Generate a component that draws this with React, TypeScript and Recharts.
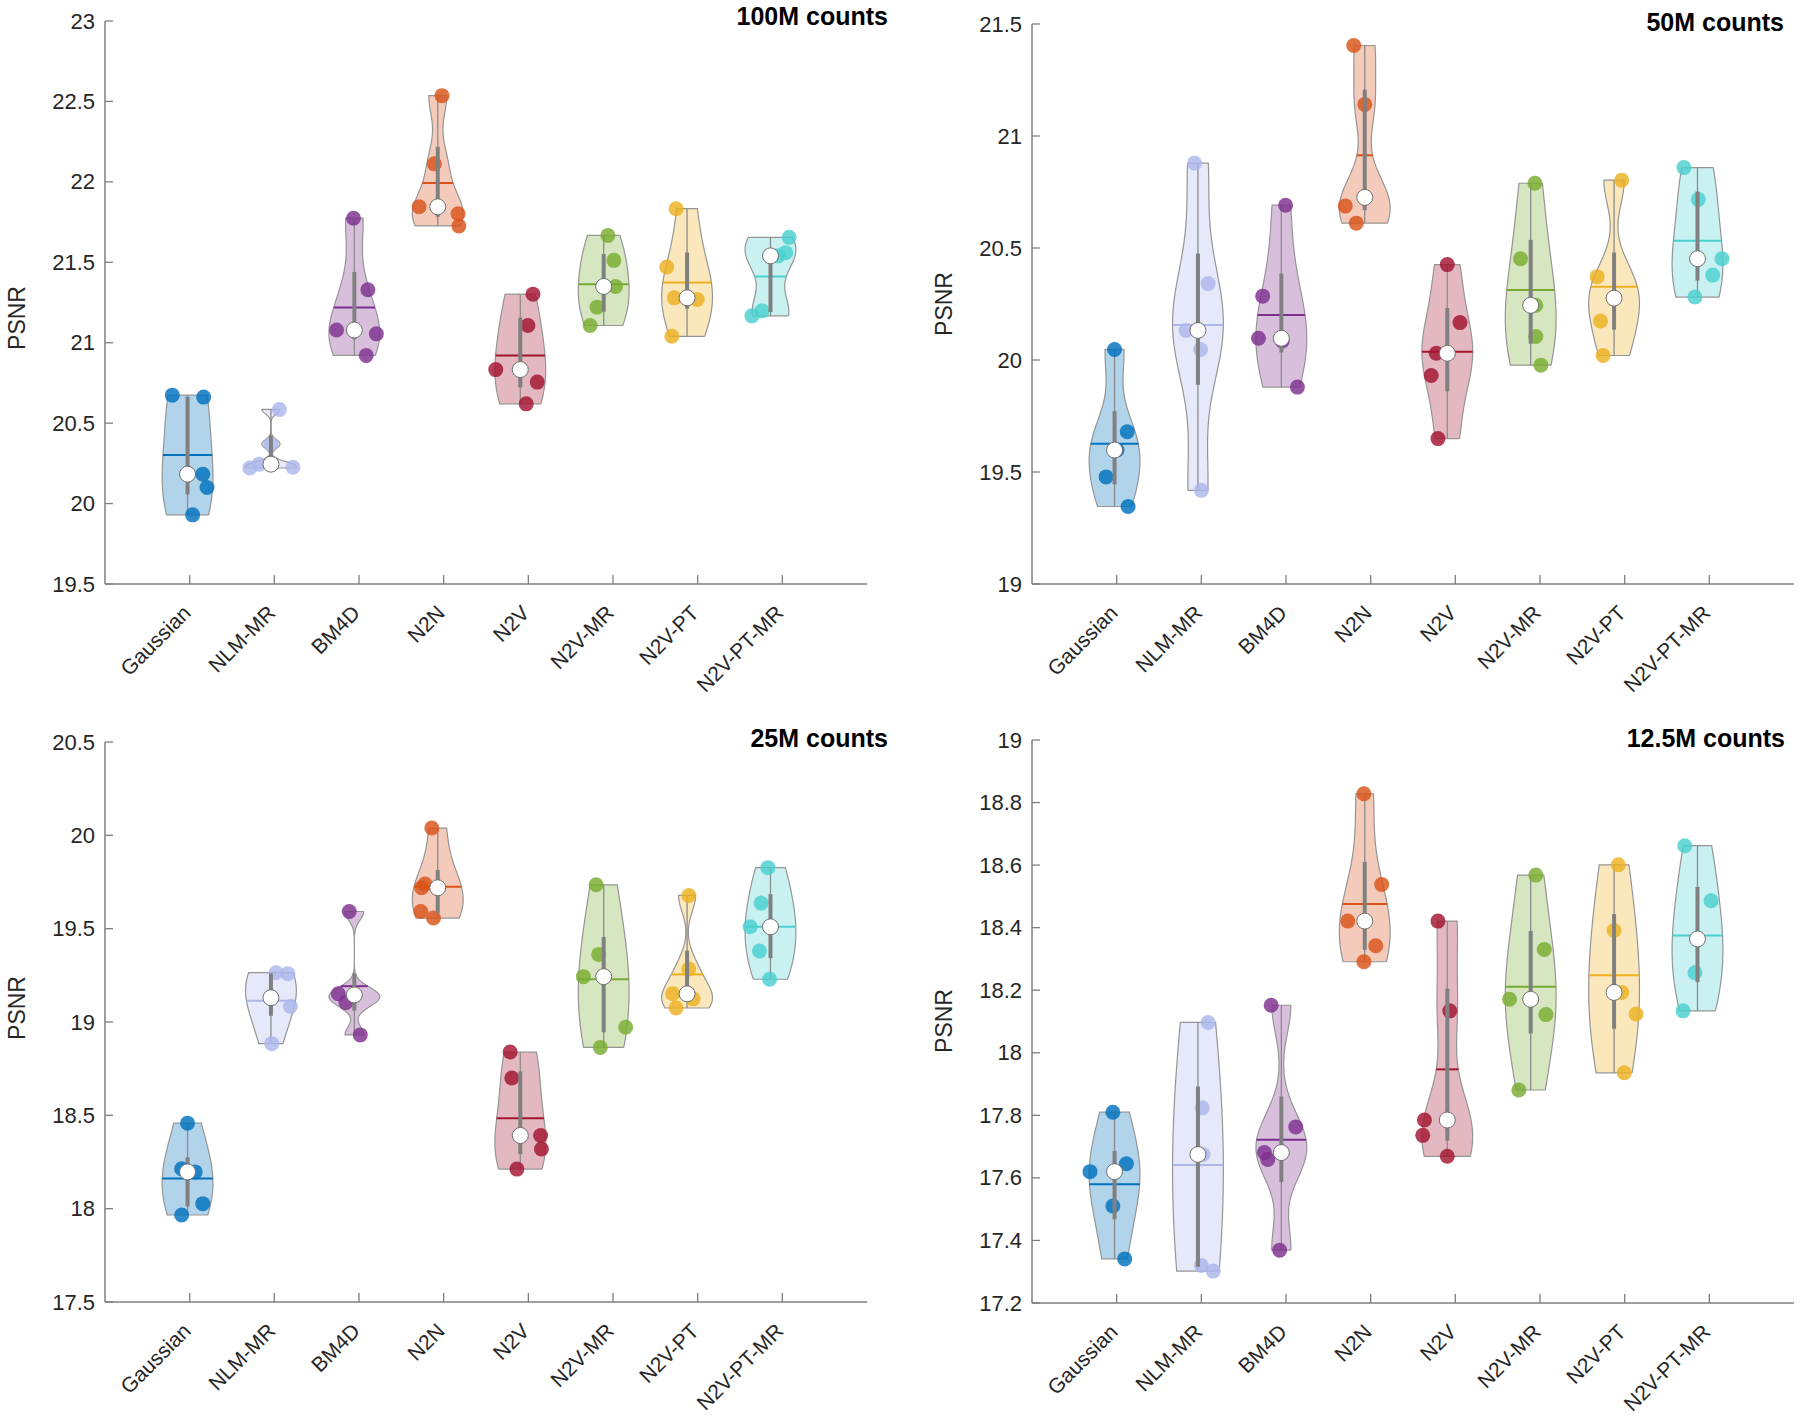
import React from "react";
import { ComposedChart, XAxis, YAxis, Scatter } from "recharts";

const FONT = '"Liberation Sans", Arial, Helvetica, sans-serif';
const AXIS_GRAY = "#7f7f7f";
const TEXT = "#262626";

const METHODS = ["Gaussian", "NLM-MR", "BM4D", "N2N", "N2V", "N2V-MR", "N2V-PT", "N2V-PT-MR"];
const COLORS = ["#0072BD", "#ACB6EB", "#7E2F8E", "#D95319", "#A2142F", "#77AC30", "#EDB120", "#4BD0D0"];
// violin centres as they sit in the figure (slightly left of the ticks)
const VIOLIN_X = [0.975, 1.96, 2.945, 3.93, 4.905, 5.89, 6.875, 7.86];
const X_TICKS = [1, 2, 3, 4, 5, 6, 7, 8];

// ---- 100M counts ----
const psnr100M = [
  [20.674, 20.662, 20.183, 20.1, 19.93],
  [20.221, 20.226, 20.245, 20.37, 20.585],
  [21.774, 21.329, 21.079, 21.055, 20.921],
  [22.536, 22.112, 21.845, 21.802, 21.726],
  [21.302, 21.107, 20.833, 20.755, 20.62],
  [21.667, 21.512, 21.35, 21.221, 21.107],
  [21.833, 21.471, 21.279, 21.269, 21.04],
  [21.655, 21.56, 21.54, 21.198, 21.167],
];
const jitter100M = [
  [-0.18, 0.19, 0.18, 0.23, 0.06],
  [-0.25, 0.26, -0.14, 0, 0.1],
  [-0.01, 0.16, -0.21, 0.26, 0.14],
  [0.05, -0.04, -0.22, 0.24, 0.25],
  [0.15, 0.09, -0.29, 0.2, 0.07],
  [0.05, 0.12, 0.14, -0.08, -0.16],
  [-0.13, -0.24, -0.15, 0.12, -0.18],
  [0.22, 0.18, 0.09, -0.1, -0.22],
];
const mean100M = [20.302, 20.33, 21.219, 21.993, 20.921, 21.364, 21.374, 21.412];
const ticks100M = [19.5, 20, 20.5, 21, 21.5, 22, 22.5, 23];

// ---- 50M counts ----
const psnr50M = [
  [20.047, 19.68, 19.598, 19.478, 19.346],
  [20.879, 20.341, 20.132, 20.047, 19.418],
  [20.691, 20.285, 20.097, 20.085, 19.879],
  [21.404, 21.141, 20.726, 20.688, 20.611],
  [20.426, 20.167, 20.03, 19.931, 19.649],
  [20.789, 20.452, 20.244, 20.105, 19.977],
  [20.803, 20.372, 20.276, 20.174, 20.02],
  [20.859, 20.717, 20.452, 20.379, 20.281],
];
const jitter50M = [
  [0, 0.15, 0.03, -0.1, 0.16],
  [-0.04, 0.12, -0.14, 0.03, 0.04],
  [0.05, -0.22, -0.27, 0.01, 0.19],
  [-0.13, 0, 0, -0.23, -0.1],
  [0, 0.15, -0.13, -0.19, -0.11],
  [0.05, -0.12, 0.06, 0.06, 0.12],
  [0.09, -0.2, 0, -0.16, -0.13],
  [-0.16, 0.01, 0.29, 0.18, -0.03],
];
const mean50M = [19.626, 20.156, 20.201, 20.914, 20.037, 20.312, 20.327, 20.532];
const ticks50M = [19, 19.5, 20, 20.5, 21, 21.5];

// ---- 25M counts ----
const psnr25M = [
  [18.458, 18.214, 18.197, 18.027, 17.966],
  [19.264, 19.259, 19.13, 19.083, 18.884],
  [19.592, 19.151, 19.145, 19.104, 18.931],
  [20.039, 19.739, 19.719, 19.592, 19.557],
  [18.839, 18.7, 18.392, 18.32, 18.212],
  [19.735, 19.362, 19.243, 18.972, 18.864],
  [19.678, 19.284, 19.151, 19.124, 19.075],
  [19.827, 19.637, 19.51, 19.38, 19.229],
];
const jitter25M = [
  [0, -0.07, 0.09, 0.18, -0.07],
  [0.06, 0.2, 0, 0.23, 0.01],
  [-0.06, -0.19, 0, -0.1, 0.07],
  [-0.07, -0.15, -0.19, -0.2, -0.05],
  [-0.12, -0.1, 0.24, 0.25, -0.04],
  [-0.09, -0.06, -0.24, 0.26, -0.04],
  [0.02, 0.02, -0.17, 0.07, -0.13],
  [-0.03, -0.11, -0.24, -0.13, -0.01],
];
const mean25M = [18.162, 19.114, 19.192, 19.725, 18.484, 19.229, 19.255, 19.51];
const ticks25M = [17.5, 18, 18.5, 19, 19.5, 20, 20.5];

// ---- 12.5M counts ----
const psnr12M = [
  [17.81, 17.645, 17.62, 17.51, 17.341],
  [18.097, 17.824, 17.675, 17.32, 17.302],
  [18.152, 17.763, 17.681, 17.659, 17.369],
  [18.828, 18.538, 18.421, 18.342, 18.291],
  [18.421, 18.134, 17.785, 17.736, 17.669],
  [18.568, 18.33, 18.171, 18.122, 17.881],
  [18.601, 18.391, 18.193, 18.124, 17.936],
  [18.662, 18.486, 18.364, 18.256, 18.134],
];
const jitter12M = [
  [-0.02, 0.14, -0.29, -0.02, 0.12],
  [0.12, 0.05, 0.06, 0.04, 0.18],
  [-0.12, 0.17, -0.2, -0.16, -0.02],
  [-0.01, 0.2, -0.2, 0.13, -0.01],
  [-0.11, 0.03, -0.27, -0.29, 0],
  [0.06, 0.16, -0.25, 0.18, -0.14],
  [0.05, 0, 0.09, 0.26, 0.12],
  [-0.15, 0.16, 0, -0.03, -0.17],
];
const mean12M = [17.58, 17.641, 17.722, 18.476, 17.947, 18.211, 18.248, 18.375];
const ticks12M = [17.2, 17.4, 17.6, 17.8, 18, 18.2, 18.4, 18.6, 18.8, 19];

type Pt = { x: number; v: number };

const sortAsc = (a: number[]) => [...a].sort((p, q) => p - q);
const medianOf = (a: number[]) => {
  const s = sortAsc(a);
  const n = s.length;
  return n % 2 ? s[(n - 1) / 2] : (s[n / 2 - 1] + s[n / 2]) / 2;
};
// matlab style quantile
const quantile = (s: number[], p: number) => {
  const n = s.length;
  const pos = n * p + 0.5;
  if (pos <= 1) return s[0];
  if (pos >= n) return s[n - 1];
  const lo = Math.floor(pos);
  return s[lo - 1] + (pos - lo) * (s[lo] - s[lo - 1]);
};
// ksdensity default bandwidth
const bandwidth = (vals: number[]) => {
  const med = medianOf(vals);
  let sig = medianOf(vals.map((v) => Math.abs(v - med))) / 0.6745;
  if (sig <= 0) sig = Math.max(...vals) - Math.min(...vals);
  return sig * Math.pow(4 / (3 * vals.length), 0.2);
};
const kde = (vals: number[], bw: number, y: number) =>
  vals.reduce((s, v) => s + Math.exp(-0.5 * ((y - v) / bw) ** 2), 0);

function violinParts(vals: number[], cx: number, meanVal: number, halfWidth = 0.3, steps = 80) {
  const s = sortAsc(vals);
  const lo = s[0];
  const hi = s[s.length - 1];
  const bw = bandwidth(s);
  const grid: number[] = [];
  for (let k = 0; k <= steps; k++) grid.push(lo + ((hi - lo) * k) / steps);
  const dens = grid.map((y) => kde(s, bw, y));
  const peak = Math.max(...dens);
  const right: Pt[] = grid.map((y, k) => ({ x: cx + (dens[k] / peak) * halfWidth, v: y }));
  const left: Pt[] = grid.map((y, k) => ({ x: cx - (dens[k] / peak) * halfWidth, v: y })).reverse();
  const q1 = quantile(s, 0.25);
  const q3 = quantile(s, 0.75);
  const iqr = q3 - q1;
  const wLo = Math.min(...s.filter((v) => v >= q1 - 1.5 * iqr));
  const wHi = Math.max(...s.filter((v) => v <= q3 + 1.5 * iqr));
  const mw = (kde(s, bw, meanVal) / peak) * halfWidth;
  return {
    outline: [...right, ...left, right[0]],
    box: [{ x: cx, v: q1 }, { x: cx, v: q3 }],
    whisker: [{ x: cx, v: wLo }, { x: cx, v: wHi }],
    mean: [{ x: cx - mw, v: meanVal }, { x: cx + mw, v: meanVal }],
    median: [{ x: cx, v: medianOf(s) }],
  };
}

const NoDot = () => <g />;
const MedianDot = (props: any) => (
  <circle cx={props.cx} cy={props.cy} r={8} fill="#ffffff" stroke="#6e6e6e" strokeWidth={1} />
);
const makeDot = (color: string) => (props: any) =>
  <circle cx={props.cx} cy={props.cy} r={7.5} fill={color} fillOpacity={0.82} />;

const MethodTick = (props: any) => {
  const { x, y, payload } = props;
  return (
    <g>
      <line x1={x} x2={x} y1={y} y2={y - 9} stroke={AXIS_GRAY} strokeWidth={1.3} />
      <text
        transform={`translate(${x - 3},${y + 25}) rotate(-45)`}
        textAnchor="end"
        dominantBaseline="central"
        fontSize={21}
        fontFamily={FONT}
        fill={TEXT}
      >
        {METHODS[payload.value - 1]}
      </text>
    </g>
  );
};

const ValueTick = (props: any) => {
  const { x, y, payload } = props;
  return (
    <g>
      <line x1={x} x2={x + 8} y1={y} y2={y} stroke={AXIS_GRAY} strokeWidth={1.3} />
      <text x={x - 10} y={y} textAnchor="end" dominantBaseline="central" fontSize={22} fontFamily={FONT} fill={TEXT}>
        {String(payload.value)}
      </text>
    </g>
  );
};

type PanelProps = {
  left: number;
  top: number;
  width: number;
  height: number;
  margin: { top: number; right: number; bottom: number; left: number };
  values: number[][];
  jitter: number[][];
  means: number[];
  ticks: number[];
  title: string;
  titleRight: number;
  titleTop: number;
  labelX: number;
  labelY: number;
};

function ViolinPanel(p: PanelProps) {
  const domain: [number, number] = [p.ticks[0], p.ticks[p.ticks.length - 1]];
  return (
    <div style={{ position: "absolute", left: p.left, top: p.top, width: p.width, height: p.height }}>
      <ComposedChart width={p.width} height={p.height} margin={p.margin}>
        <XAxis
          type="number"
          dataKey="x"
          domain={[0, 9]}
          ticks={X_TICKS}
          interval={0}
          allowDataOverflow
          tickSize={0}
          tickMargin={0}
          tickLine={false}
          axisLine={{ stroke: AXIS_GRAY, strokeWidth: 1.5 }}
          tick={MethodTick}
          height={100}
        />
        <YAxis
          type="number"
          dataKey="v"
          domain={domain}
          ticks={p.ticks}
          interval={0}
          allowDataOverflow
          tickSize={0}
          tickMargin={0}
          tickLine={false}
          axisLine={{ stroke: AXIS_GRAY, strokeWidth: 1.5 }}
          tick={ValueTick}
          width={60}
        />
        {METHODS.map((m, i) => {
          const cx = VIOLIN_X[i];
          const parts = violinParts(p.values[i], cx, p.means[i]);
          const pts: Pt[] = p.values[i].map((v, k) => ({ x: cx + p.jitter[i][k], v }));
          return (
            <React.Fragment key={m}>
              <Scatter
                data={parts.outline}
                shape={NoDot}
                line={{ stroke: "#959595", strokeWidth: 1.2, fill: COLORS[i], fillOpacity: 0.3 }}
                isAnimationActive={false}
              />
              <Scatter data={parts.whisker} shape={NoDot} line={{ stroke: "#8c8c8c", strokeWidth: 1.3 }} isAnimationActive={false} />
              <Scatter data={pts} shape={makeDot(COLORS[i])} isAnimationActive={false} />
              <Scatter data={parts.mean} shape={NoDot} line={{ stroke: COLORS[i], strokeWidth: 2 }} isAnimationActive={false} />
              <Scatter data={parts.box} shape={NoDot} line={{ stroke: "#808080", strokeWidth: 4 }} isAnimationActive={false} />
              <Scatter data={parts.median} shape={MedianDot} isAnimationActive={false} />
            </React.Fragment>
          );
        })}
      </ComposedChart>
      <div
        style={{
          position: "absolute",
          right: p.titleRight,
          top: p.titleTop,
          fontFamily: FONT,
          fontWeight: "bold",
          fontSize: 25,
          lineHeight: "25px",
          color: "#000",
          whiteSpace: "nowrap",
        }}
      >
        {p.title}
      </div>
      <div
        style={{
          position: "absolute",
          left: p.labelX,
          top: p.labelY,
          transform: "translate(-50%, -50%) rotate(-90deg)",
          fontFamily: FONT,
          fontSize: 23,
          lineHeight: "23px",
          color: TEXT,
          whiteSpace: "nowrap",
        }}
      >
        PSNR
      </div>
    </div>
  );
}

export default function App() {
  return (
    <div style={{ position: "absolute", left: 0, top: 0, width: 1800, height: 1419, background: "#ffffff" }}>
      <ViolinPanel
        left={0}
        top={0}
        width={900}
        height={710}
        margin={{ top: 21, right: 33, bottom: 26, left: 45 }}
        values={psnr100M}
        jitter={jitter100M}
        means={mean100M}
        ticks={ticks100M}
        title="100M counts"
        titleRight={12}
        titleTop={4}
        labelX={17}
        labelY={318}
      />
      <ViolinPanel
        left={900}
        top={0}
        width={900}
        height={710}
        margin={{ top: 24, right: 6, bottom: 26, left: 72 }}
        values={psnr50M}
        jitter={jitter50M}
        means={mean50M}
        ticks={ticks50M}
        title="50M counts"
        titleRight={16}
        titleTop={10}
        labelX={44}
        labelY={304}
      />
      <ViolinPanel
        left={0}
        top={720}
        width={900}
        height={699}
        margin={{ top: 22, right: 33, bottom: 17, left: 45 }}
        values={psnr25M}
        jitter={jitter25M}
        means={mean25M}
        ticks={ticks25M}
        title="25M counts"
        titleRight={12}
        titleTop={6}
        labelX={17}
        labelY={288}
      />
      <ViolinPanel
        left={900}
        top={720}
        width={900}
        height={699}
        margin={{ top: 20, right: 6, bottom: 16, left: 72 }}
        values={psnr12M}
        jitter={jitter12M}
        means={mean12M}
        ticks={ticks12M}
        title="12.5M counts"
        titleRight={15}
        titleTop={6}
        labelX={44}
        labelY={301}
      />
    </div>
  );
}
